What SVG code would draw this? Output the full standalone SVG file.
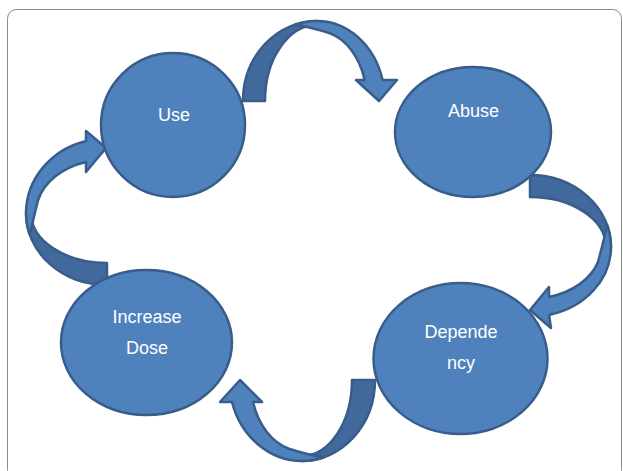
<svg xmlns="http://www.w3.org/2000/svg" width="623" height="471" viewBox="0 0 623 471">
<style>
.node{fill:#4f81bd;stroke:#385d8a;stroke-width:2.5}
.lt{fill:#4f81bd;stroke:#385d8a;stroke-width:2.5;stroke-linejoin:round}
.dk{fill:#41699c;stroke:#385d8a;stroke-width:2.5;stroke-linejoin:round}
.lbl{fill:#ffffff;font-family:"Liberation Sans",Arial,sans-serif;font-size:18px;text-anchor:middle}
</style>
<rect x="7.5" y="9.5" width="614" height="470" rx="9" fill="#ffffff" stroke="#8c8c8c" stroke-width="1"/>
<g id="connectors">
  <g id="use-abuse">
    <path class="dk" d="M243,101 A74,80 0 0 1 317,21 L317,25 A52,76 0 0 0 265,101 Z"/>
    <path class="lt" d="M295,24.6 A74,80 0 0 1 317,21 A68,80 0 0 1 382.6,80 L397,80 L379,101 L356,80 L364.7,80 A50,70 0 0 0 330,33.4 Q310,27 295,24.6 Z"/>
  </g>
  <g id="abuse-dependency">
    <path class="dk" d="M530,175 A81,72 0 0 1 611,247 L606,247 A76,50 0 0 0 530,197 Z"/>
    <path class="lt" d="M607.1,225 A81,72 0 0 1 611,247 A81,70 0 0 1 549,315 L551,328 L530,310 L549,287 L549,297 A71,52 0 0 0 598,262 Q604,240 607.1,225 Z"/>
  </g>
  <g id="dependency-increase">
    <path class="dk" d="M375,380 A73,81 0 0 1 302,461 L302,456 A50,76 0 0 0 352,380 Z"/>
    <path class="lt" d="M324,457.2 A73,81 0 0 1 302,461 A73,81 0 0 1 232,402 L220,402 L240,380 L262,402 L253,402 A51.5,71 0 0 0 289,448.7 Q308,455 324,457.2 Z"/>
  </g>
  <g id="increase-use">
    <path class="dk" d="M26,213 A81,72 0 0 0 107,285 L107,263 A76,50 0 0 1 31,213 Z"/>
    <path class="lt" d="M29.9,235 A81,72 0 0 1 26,213 A81,75 0 0 1 86,141 L86,131 L106,148 L86,172 L86,162 A71,53.4 0 0 0 38.1,200 Q33,220 29.9,235 Z"/>
  </g>
</g>
<g id="use">
  <ellipse class="node" cx="173" cy="125" rx="72" ry="72"/>
  <text class="lbl" x="174" y="120.5">Use</text>
</g>
<g id="abuse">
  <ellipse class="node" cx="473" cy="132" rx="78" ry="65"/>
  <text class="lbl" x="473.5" y="116.5">Abuse</text>
</g>
<g id="dependency">
  <ellipse class="node" cx="460.5" cy="358.5" rx="87" ry="75.5"/>
  <text class="lbl" x="461" y="338">Depende</text>
  <text class="lbl" x="461" y="368.5">ncy</text>
</g>
<g id="increase-dose">
  <ellipse class="node" cx="146.5" cy="342.5" rx="85.5" ry="72.5"/>
  <text class="lbl" x="147" y="323">Increase</text>
  <text class="lbl" x="147" y="354">Dose</text>
</g>
</svg>
